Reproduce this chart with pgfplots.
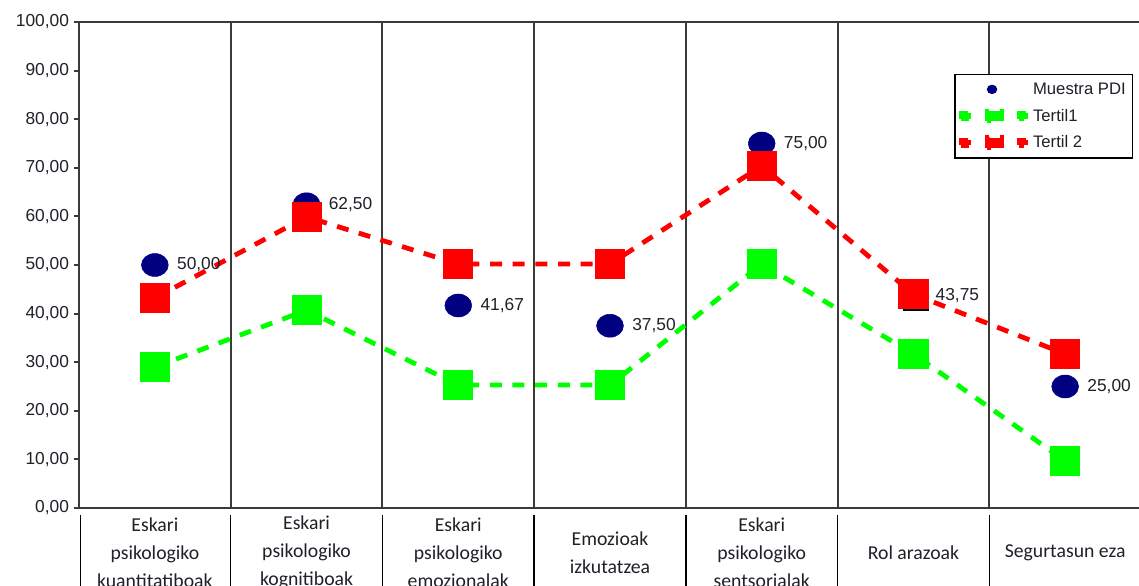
\documentclass[border=0pt]{standalone}
\usepackage{fontspec}
\setmainfont{Liberation Sans}
\newfontfamily\calibri{Carlito}
\usepackage{pgfplots}
\pgfplotsset{compat=1.18}

\definecolor{navy}{HTML}{000080}
\definecolor{tgreen}{HTML}{00FF00}
\definecolor{tred}{HTML}{FF0000}
\definecolor{frame}{HTML}{3A3A3A}
\definecolor{txt}{HTML}{202028}

% legend sample: short dash, small block, short dash
\pgfplotsset{
  tertil legend/.style={
    legend image code/.code={%
      \fill[#1] (0pt,-1.9pt) rectangle (7.5pt,1.9pt);
      \fill[#1] (19.5pt,-3.75pt) rectangle (30.5pt,3.75pt);
      \fill[#1] (43.5pt,-1.9pt) rectangle (50pt,1.9pt);}},
}

\begin{document}
\begin{tikzpicture}
\begin{axis}[
  name=ax,
  at={(0,0)}, anchor=south west,
  scale only axis,
  width=796.5pt, height=364.5pt,
  xmin=-0.5, xmax=6.5, ymin=0, ymax=100,
  clip=false,
  axis line style={frame, line width=1.5pt},
  xtick={0,...,6},
  xticklabels={{Eskari\\psikologiko\\kuantitatiboak},
               {Eskari\\psikologiko\\kognitiboak},
               {Eskari\\psikologiko\\emozionalak},
               {Emozioak\\izkutatzea},
               {Eskari\\psikologiko\\sentsorialak},
               {Rol arazoak},
               {Segurtasun eza}},
  xtick style={draw=none},
  xticklabel style={font=\calibri\fontsize{14.8}{21}\selectfont, align=center,
    anchor=center, yshift=-29.6pt, text=txt},
  ytick={0,10,...,100},
  ytick pos=left, tick align=outside,
  major tick length=4pt,
  ytick style={frame, line width=1.5pt},
  yticklabel style={font=\fontsize{13}{15}\selectfont, text=txt},
  /pgf/number format/fixed,
  /pgf/number format/fixed zerofill,
  /pgf/number format/precision=2,
  /pgf/number format/use comma,
  /pgf/number format/assume math mode=true,
  legend style={at={(0.9925,0.893)}, anchor=north east, draw=black,
    line width=1pt, font=\fontsize{12.5}{14}\selectfont, text=txt,
    inner xsep=3pt, inner ysep=4pt, row sep=5.6pt},
  legend cell align=left,
]

% column separators inside the plot and in the label row below it
\pgfplotsinvokeforeach{0.5,1.5,2.5,3.5,4.5,5.5}{
  \draw[frame, line width=1.5pt] (axis cs:#1,0) -- (axis cs:#1,100);
  \draw[black, line width=1.1pt] (axis cs:#1,-1.4) -- (axis cs:#1,-18);
}
\draw[black, line width=1.1pt] (axis cs:-0.49,-1.4) -- (axis cs:-0.49,-18);

% Muestra PDI
\addplot[only marks, mark=*, mark size=8.6pt,
  mark options={xscale=1.17, draw=navy, fill=navy},
  legend image code/.code={\fill[navy] (23pt,0pt) ellipse [x radius=3.4pt, y radius=3pt];},
  nodes near coords,
  every node near coord/.style={anchor=west, xshift=16.5pt, inner sep=0pt,
    font=\fontsize{13}{15}\selectfont, text=txt}]
  coordinates {(0,50) (1,62.5) (2,41.67) (3,37.5) (4,75) (5,43.75) (6,25)};
\addlegendentry{Muestra PDI}

% shadow of the Rol arazoak marker
\addplot[forget plot, only marks, mark=square*, mark size=9.5pt,
  mark options={black, xshift=1.8pt, yshift=-1.8pt}]
  coordinates {(5,43.75)};

% Tertil1
\addplot[tgreen, line width=3.6pt, dash pattern=on 9pt off 8pt,
  mark=square*, mark size=9.5pt,
  mark options={solid, draw=none, fill=tgreen},
  tertil legend=tgreen]
  coordinates {(0,29.0) (1,40.7) (2,25.3) (3,25.3) (4,50.2) (5,31.7) (6,9.7)};
\addlegendentry{Tertil1}

% Tertil 2
\addplot[tred, line width=3.6pt, dash pattern=on 9pt off 8pt,
  mark=square*, mark size=9.5pt,
  mark options={solid, draw=none, fill=tred},
  tertil legend=tred]
  coordinates {(0,43.2) (1,59.9) (2,50.2) (3,50.2) (4,70.4) (5,44.0) (6,31.7)};
\addlegendentry{Tertil 2}

\end{axis}
\pgfresetboundingbox
\path[use as bounding box]
  ([xshift=-59.25pt, yshift=-57.75pt]ax.south west)
  rectangle ([xshift=-1.5pt, yshift=16.5pt]ax.north east);
\end{tikzpicture}
\end{document}
